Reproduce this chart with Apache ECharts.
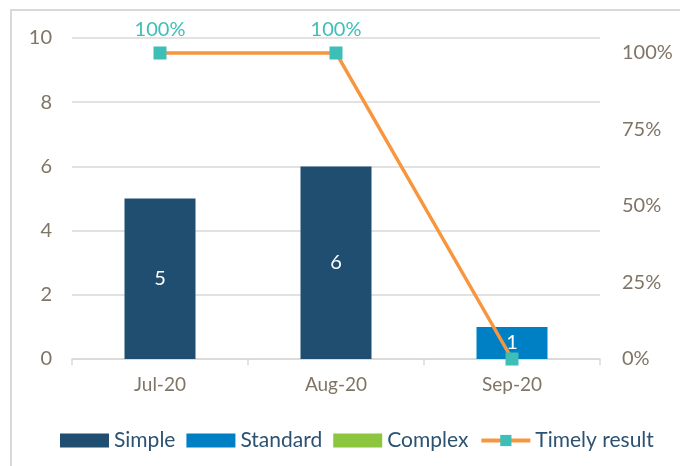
<!DOCTYPE html>
<html>
<head>
<meta charset="utf-8">
<script src="https://cdn.jsdelivr.net/npm/echarts@6/dist/echarts.min.js"></script>
<style>
  html, body { margin: 0; padding: 0; background: #fff; }
  #chart { width: 680px; height: 466px; }
</style>
</head>
<body>
<div id="chart"></div>
<script>
// Monthly request counts by complexity, with the share answered on time
const months = ['Jul-20', 'Aug-20', 'Sep-20'];
const simple = [5, 6, 0];
const standard = [0, 0, 1];
const complex = [0, 0, 0];
const timelyPct = [100, 100, 0];
const countTicks = [0, 2, 4, 6, 8, 10];
const pctTicks = [0, 25, 50, 75, 100];

const FONT = 'Lato, "Open Sans", sans-serif';
const axisGrey = '#7f7465';

// hide zero-height segments' labels
function barLabel(v) { return v.value ? String(v.value) : ''; }

const chart = echarts.init(document.getElementById('chart'));
chart.setOption({
  animation: false,
  textStyle: { fontFamily: FONT },
  graphic: [{
    type: 'rect',
    shape: { x: 11, y: 10, width: 720, height: 520 },
    style: { fill: 'none', stroke: '#d9d9d9', lineWidth: 2 },
    silent: true
  }],
  grid: { left: 72, right: 80, top: 38, bottom: 107 },
  legend: {
    top: 425,
    left: 55,
    itemWidth: 49,
    itemHeight: 14,
    itemGap: 11,
    textStyle: { color: '#2c5272', fontSize: 21, fontFamily: FONT },
    data: [
      { name: 'Simple', icon: 'rect' },
      { name: 'Standard', icon: 'rect' },
      { name: 'Complex', icon: 'rect' },
      { name: 'Timely result', lineStyle: { width: 4 } }
    ]
  },
  xAxis: {
    type: 'category',
    data: months,
    axisLine: { lineStyle: { color: '#d9d9d9', width: 1.5 } },
    axisTick: { show: true, length: 6, lineStyle: { color: '#d9d9d9', width: 1.5 } },
    axisLabel: { color: axisGrey, fontSize: 19, margin: 16 }
  },
  yAxis: [{
    type: 'value',
    min: countTicks[0],
    max: countTicks[countTicks.length - 1],
    interval: 2,
    axisLine: { show: false },
    axisTick: { show: false },
    axisLabel: { color: axisGrey, fontSize: 20, margin: 20 },
    splitLine: { lineStyle: { color: '#d9d9d9', width: 1.5 } }
  }, {
    type: 'value',
    min: 0,
    max: 104.9,
    interval: 25,
    axisLine: { show: false },
    axisTick: { show: false },
    splitLine: { show: false },
    axisLabel: {
      color: axisGrey, fontSize: 20, margin: 22,
      formatter: v => (pctTicks.indexOf(Math.round(v)) >= 0 && Math.abs(v - Math.round(v)) < 1e-6) ? v + '%' : ''
    }
  }],
  series: [{
    name: 'Simple',
    type: 'bar',
    stack: 'req',
    barWidth: 71,
    data: simple,
    itemStyle: { color: '#1f4e71' },
    label: { show: true, position: 'inside', color: '#fff', fontSize: 20, formatter: barLabel }
  }, {
    name: 'Standard',
    type: 'bar',
    stack: 'req',
    barWidth: 71,
    data: standard,
    itemStyle: { color: '#0080c4' },
    label: { show: true, position: 'inside', color: '#fff', fontSize: 20, formatter: barLabel }
  }, {
    name: 'Complex',
    type: 'bar',
    stack: 'req',
    barWidth: 71,
    data: complex,
    itemStyle: { color: '#8cc63f' },
    label: { show: true, position: 'inside', color: '#fff', fontSize: 20, formatter: barLabel }
  }, {
    name: 'Timely result',
    type: 'line',
    yAxisIndex: 1,
    data: timelyPct.map(v => ({
      value: v,
      label: { show: v > 0 }
    })),
    symbol: 'rect',
    symbolSize: 13,
    lineStyle: { color: '#f7963f', width: 3.5 },
    itemStyle: { color: '#3dbfb7' },
    label: {
      position: 'top',
      distance: 7,
      color: '#3dbfb7',
      fontSize: 20,
      formatter: p => p.value + '%'
    },
    z: 5
  }]
});
</script>
</body>
</html>
